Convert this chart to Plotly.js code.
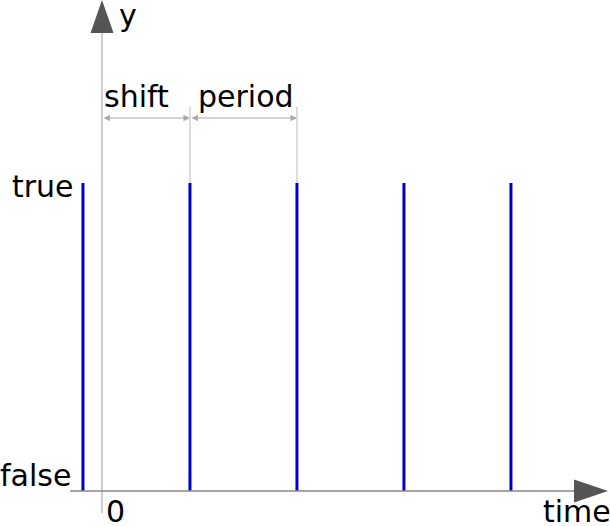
<!DOCTYPE html>
<html>
<head>
<meta charset="utf-8">
<script src="https://cdn.plot.ly/plotly-3.0.1.min.js"></script>
<style>html,body{margin:0;padding:0;background:#fff;}#chart{width:610px;height:526px;}</style>
</head>
<body>
<div id="chart"></div>
<script>
// ---- data ----
const period = 1.0;
const shift = 0.822;
const pulseTimes = [-0.178, 0.822, 1.822, 2.822, 3.822];
const pulseLow = 0;   // false
const pulseHigh = 1;  // true
const yTickLabels = ['false', 'true'];
const xTickLabels = ['0'];
const axisLabels = {x: 'time', y: 'y'};
const dimLabels = ['shift', 'period'];

// ---- pixel helpers (layout only) ----
const W = 610, H = 526;
const X = px => (px - 102) / 107;
const Y = py => (491 - py) / 308;

// pulse trace built from data
const xs = [], ys = [];
pulseTimes.forEach(t => { xs.push(t, t, null); ys.push(pulseLow, pulseHigh, null); });

const traces = [{
  x: xs, y: ys, type: 'scatter', mode: 'lines',
  line: {color: '#0000cc', width: 3}, hoverinfo: 'skip', showlegend: false
}];

const font = {family: 'DejaVu Sans, sans-serif', size: 30, color: '#000'};

const shapes = [
  {type: 'line', xref: 'x', yref: 'y', x0: 0, x1: 0, y0: Y(513), y1: Y(30), line: {color: '#b4b4b4', width: 1.3}},
  {type: 'line', xref: 'x', yref: 'y', x0: X(70), x1: X(576), y0: pulseLow, y1: pulseLow, line: {color: '#888', width: 1.3}},
  {type: 'path', xref: 'x', yref: 'y', path: `M ${X(102)},${Y(0)} L ${X(90.5)},${Y(33)} L ${X(113.5)},${Y(33)} Z`, fillcolor: '#555', line: {width: 0}},
  {type: 'path', xref: 'x', yref: 'y', path: `M ${X(608)},${Y(491)} L ${X(574)},${Y(479.5)} L ${X(574)},${Y(502.5)} Z`, fillcolor: '#555', line: {width: 0}},
  {type: 'line', xref: 'x', yref: 'y', x0: shift, x1: shift, y0: pulseHigh, y1: Y(107), line: {color: '#bbb', width: 1}},
  {type: 'line', xref: 'x', yref: 'y', x0: shift + period, x1: shift + period, y0: pulseHigh, y1: Y(107), line: {color: '#bbb', width: 1}}
];

const dimY = Y(118);
const annotations = [
  {x: shift, y: dimY, ax: 0, ay: dimY, xref: 'x', yref: 'y', axref: 'x', ayref: 'y', text: '', showarrow: true,
   arrowside: 'end+start', arrowhead: 2, arrowsize: 1.3, arrowwidth: 1, arrowcolor: '#aaa'},
  {x: shift + period, y: dimY, ax: shift, ay: dimY, xref: 'x', yref: 'y', axref: 'x', ayref: 'y', text: '', showarrow: true,
   arrowside: 'end+start', arrowhead: 2, arrowsize: 1.3, arrowwidth: 1, arrowcolor: '#aaa'},
  {x: X(136), y: Y(96), text: dimLabels[0], showarrow: false, font: font, xanchor: 'center', yanchor: 'middle'},
  {x: X(245.5), y: Y(96), text: dimLabels[1], showarrow: false, font: font, xanchor: 'center', yanchor: 'middle'},
  {x: X(76), y: Y(186), text: yTickLabels[1], showarrow: false, font: font, xanchor: 'right', yanchor: 'middle'},
  {x: X(73), y: Y(475), text: yTickLabels[0], showarrow: false, font: font, xanchor: 'right', yanchor: 'middle'},
  {x: X(115), y: Y(511), text: xTickLabels[0], showarrow: false, font: font, xanchor: 'center', yanchor: 'middle'},
  {x: X(577), y: Y(511), text: axisLabels.x, showarrow: false, font: font, xanchor: 'center', yanchor: 'middle'},
  {x: X(117), y: Y(15), text: axisLabels.y, showarrow: false, font: font, xanchor: 'left', yanchor: 'middle'}
];

const layout = {
  width: W, height: H,
  margin: {l: 0, r: 0, t: 0, b: 0, pad: 0},
  paper_bgcolor: '#fff', plot_bgcolor: '#fff',
  xaxis: {range: [X(0), X(W)], visible: false, fixedrange: true},
  yaxis: {range: [Y(H), Y(0)], visible: false, fixedrange: true},
  shapes: shapes, annotations: annotations, showlegend: false
};

Plotly.newPlot('chart', traces, layout, {displayModeBar: false, staticPlot: true});
</script>
</body>
</html>
